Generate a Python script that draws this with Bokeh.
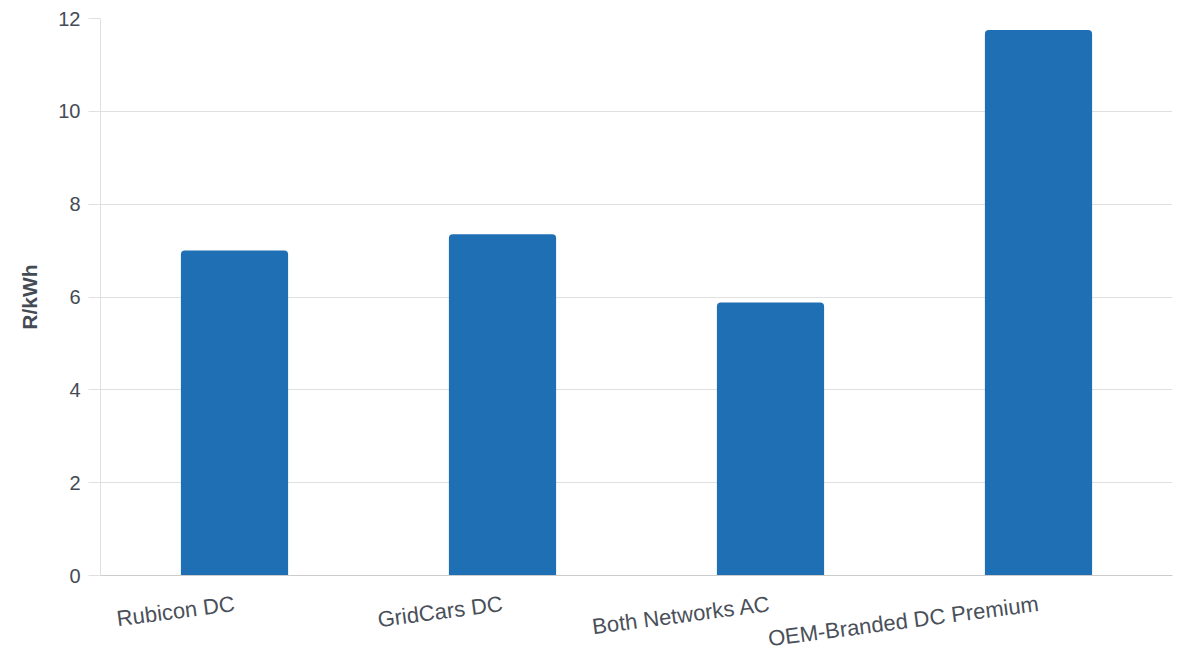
from bokeh.plotting import figure
from bokeh.models import ColumnDataSource, FactorRange, Range1d, SingleIntervalTicker
from bokeh.embed import file_html
from bokeh.resources import INLINE

categories = ["Rubicon DC", "GridCars DC", "Both Networks AC", "OEM-Branded DC Premium"]
values = [7.0, 7.35, 5.88, 11.75]
y_label = "R/kWh"

src = ColumnDataSource(dict(cat=categories, val=values))

p = figure(width=1200, height=667, x_range=FactorRange(*categories, range_padding=0),
           y_range=Range1d(0, 12), output_backend="svg", toolbar_location=None,
           min_border_left=100, min_border_right=28, min_border_top=18, min_border_bottom=92)
p.outline_line_color = None
p.background_fill_color = "white"
p.border_fill_color = "white"

p.vbar(x="cat", top="val", width=0.4, source=src, fill_color="#1f6fb4",
       line_color=None, border_radius=(4, 4, 0, 0))

font = "Liberation Sans"
p.yaxis.ticker = SingleIntervalTicker(interval=2)
p.yaxis.axis_label = y_label
p.yaxis.axis_label_text_font = font
p.yaxis.axis_label_text_font_style = "bold"
p.yaxis.axis_label_text_font_size = "21px"
p.yaxis.axis_label_text_color = "#444b55"
p.yaxis.axis_label_standoff = 14
p.yaxis.major_label_text_font = font
p.yaxis.major_label_text_font_size = "20px"
p.yaxis.major_label_text_color = "#444b55"
p.yaxis.major_label_standoff = 8
p.yaxis.axis_line_color = "#e0e0e0"
p.yaxis.major_tick_line_color = "#e0e0e0"
p.yaxis.major_tick_out = 12
p.yaxis.major_tick_in = 0
p.yaxis.minor_tick_line_color = None

p.xaxis.major_label_orientation = 0.13
p.xaxis.major_label_text_font = font
p.xaxis.major_label_text_font_size = "22px"
p.xaxis.major_label_text_color = "#4a505a"
p.xaxis.major_label_standoff = 22
p.xaxis.axis_line_color = "#cccccc"
p.xaxis.major_tick_line_color = None
p.xaxis.minor_tick_line_color = None

p.xgrid.grid_line_color = None
p.ygrid.grid_line_color = "#e0e0e0"

open("out.html", "w").write(file_html(p, INLINE))
